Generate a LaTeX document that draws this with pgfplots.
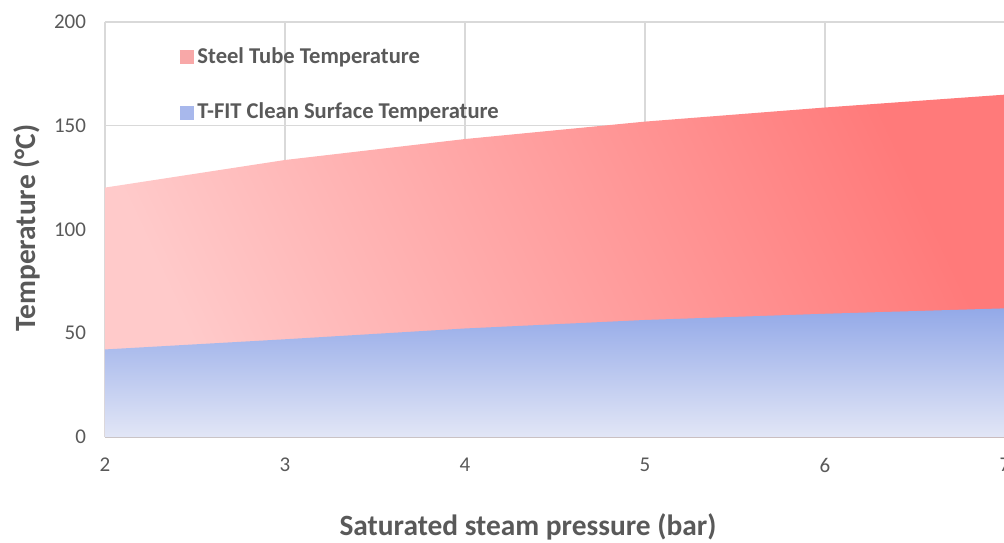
\documentclass[border=0pt]{standalone}
\usepackage{fontspec}
\setmainfont{Carlito}
\usepackage{pgfplots}
\pgfplotsset{compat=1.18}

\definecolor{gridgray}{HTML}{D9D9D9}
\definecolor{axisgray}{HTML}{BFBFBF}
\definecolor{textgray}{HTML}{595959}
\definecolor{redlight}{HTML}{FFCACA}
\definecolor{reddark}{HTML}{FF7A7A}
\definecolor{bluetop}{HTML}{93A9E8}
\definecolor{bluebottom}{HTML}{E2E6F6}
\definecolor{redkey}{HTML}{F8A8A8}
\definecolor{bluekey}{HTML}{A8B8EC}

\begin{document}
\begin{tikzpicture}
\begin{axis}[
  at={(52.5pt,52.5pt)}, anchor=south west,
  scale only axis, width=450pt, height=207.5pt,
  xmin=2, xmax=7, ymin=0, ymax=200,
  xtick={2,3,4,5,6,7}, ytick={0,50,100,150,200},
  grid=major,
  major grid style={gridgray, line width=0.6pt},
  axis lines*=left,
  x axis line style={axisgray, line width=0.8pt},
  y axis line style={draw=none},
  tick style={draw=none},
  /pgf/number format/assume math mode=true,
  ticklabel style={font=\fontsize{10.5}{12}\selectfont, text=textgray},
  yticklabel style={xshift=-6pt},
  xticklabel style={yshift=-7pt},
  xlabel={Saturated steam pressure (bar)},
  ylabel={Temperature (°C)},
  label style={font=\fontsize{14.7}{17}\selectfont\bfseries, text=textgray},
  xlabel style={at={(axis description cs:0.47,-0.217)}, anchor=center},
  ylabel style={at={(axis description cs:-0.087,0.5036)}, anchor=center, rotate=0},
  legend style={at={(axis description cs:0.083,0.95)}, anchor=north west,
    draw=none, fill=none, inner sep=0pt, row sep=14.5pt,
    font=\fontsize{11.3}{13}\selectfont\bfseries, text=textgray,
    nodes={inner xsep=1.8pt}},
  legend cell align=left,
  legend image code/.code={\fill[#1] (0pt,-3.25pt) rectangle (6.5pt,3.25pt);},
]
\addplot[draw=none, left color=redlight, right color=reddark, shading angle=115,
  forget plot]
  coordinates {(2,120.2) (3,133.5) (4,143.6) (5,152.0) (6,158.8) (7,165.0)}
  \closedcycle;
\addlegendimage{redkey}
\addlegendentry{Steel Tube Temperature}
\addplot[draw=none, top color=bluetop, bottom color=bluebottom, forget plot]
  coordinates {(2,42.2) (3,47.1) (4,52.3) (5,56.4) (6,59.4) (7,62.0)}
  \closedcycle;
\addlegendimage{bluekey}
\addlegendentry{T-FIT Clean Surface Temperature}
\end{axis}
\pgfresetboundingbox
\path (0,0) rectangle (502pt,271pt);
\end{tikzpicture}
\end{document}
